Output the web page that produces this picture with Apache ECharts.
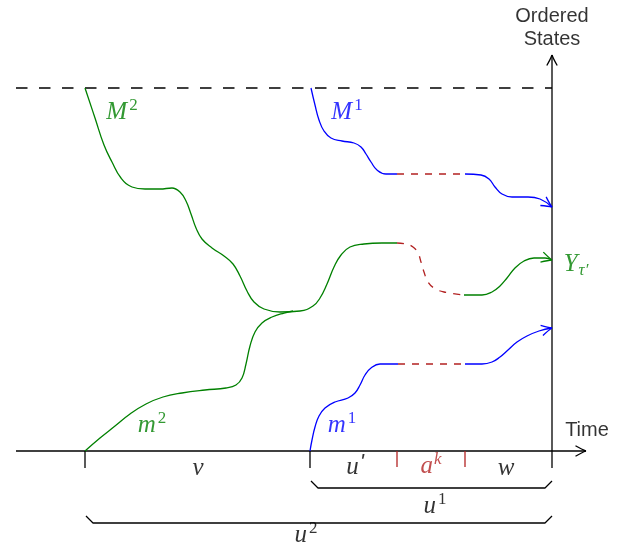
<!DOCTYPE html>
<html>
<head>
<meta charset="utf-8">
<script src="https://cdn.jsdelivr.net/npm/echarts@6/dist/echarts.min.js"></script>
<style>html,body{margin:0;padding:0;background:#fff}#c{width:632px;height:555px}</style>
</head>
<body>
<div id="c"></div>
<script>
// ---- Data (diagram coordinates: x = time position, y = state position, screen-like units) ----
const greenUpper = [[85,88],[95,118],[104,145],[112,162],[121,178],[132,187],[145,189],[160,189],[172,188],[180,192],[186,201],[191,214],[196,228],[202,239],[212,248],[224,256],[233,264],[240,276],[247,291],[254,302],[264,309],[280,312],[300,311],[313,306],[320,298],[327,284],[334,267],[341,255],[350,247],[364,244],[382,243],[397,243]];
const greenLower = [[85,451],[100,438],[115,426],[130,414],[146,404],[163,397],[182,393],[205,390],[226,388],[236,385],[242,378],[246,364],[250,346],[255,332],[262,323],[272,317],[284,313],[293,311]];
const greenGap = [[397,243],[406,244],[413,247],[418,253],[421,262],[424,272],[428,282],[434,288],[444,292],[464,295]];
const greenEnd = [[464,295],[482,295],[492,292],[500,286],[507,278],[515,268],[524,261],[534,258],[545,258],[552,260]];
const blueTop = [[311,88],[315,105],[319,120],[324,131],[331,138],[342,141],[354,143],[361,147],[366,154],[371,162],[377,170],[386,174],[397,174]];
const blueTopGap = [[397,174],[465,174]];
const blueTopEnd = [[465,174],[481,175],[489,179],[495,187],[502,194],[512,197],[528,197],[540,199],[552,207]];
const blueBot = [[310,451],[312,440],[315,427],[319,416],[325,408],[335,402],[348,398],[355,393],[360,385],[365,375],[371,368],[380,364],[398,364]];
const blueBotGap = [[398,364],[465,364]];
const blueBotEnd = [[465,364],[482,364],[492,362],[500,357],[508,350],[517,342],[527,336],[539,331],[552,328]];
const timeAxis = [[16,451],[586,451]];
const stateAxis = [[552,468],[552,55]];
const topLevel = [[16,88],[552,88]];
const blackTicks = [[[85,451],[85,468]],[[310,451],[310,468]]];
const redTicks = [[[397,451],[397,467]],[[465,451],[465,467]]];
const braceU1 = [[311,481],[318,488],[545,488],[552,481]];
const braceU2 = [[86,516],[93,523],[545,523],[552,516]];
const labels = [
  {name:'Ordered', at:[552,16], text:'{sans|Ordered}'},
  {name:'States', at:[552,39], text:'{sans|States}'},
  {name:'Time', at:[587,430], text:'{sans|Time}'},
  {name:'M2', at:[122,112], text:'{gi|M}{gs|2}'},
  {name:'M1', at:[347,112], text:'{bi|M}{bs|1}'},
  {name:'m2', at:[152,425], text:'{gi|m}{gs|2}'},
  {name:'m1', at:[342,425], text:'{bi|m}{bs|1}'},
  {name:'Ytau', at:[576,264], text:'{gi|Y}{gsub|τ′}'},
  {name:'v', at:[198,468], text:'{ki|v}'},
  {name:'u\'', at:[355,467], text:'{ki|u}{kp|\'}'},
  {name:'ak', at:[431,466], text:'{ri|a}{rsi|k}'},
  {name:'w', at:[506,468], text:'{ki|w}'},
  {name:'u1', at:[435,506], text:'{ki|u}{ks|1}'},
  {name:'u2', at:[306,535], text:'{ki|u}{ks|2}'}
];

const GREEN = '#008000', BLUE = '#0000ff', RED = '#b22222', BLACK = '#000';
const LW = 1.3;

function lineSeries(data, color, dash, smooth) {
  return {
    type: 'line', data: data, showSymbol: false, symbol: 'none', silent: true,
    smooth: smooth ? 0.45 : false,
    lineStyle: {color: color, width: LW, type: dash || 'solid', cap: 'butt'},
    animation: false, z: 2
  };
}

const series = [];
series.push(lineSeries(topLevel, BLACK, [11.5, 11.5], false));
series.push(lineSeries(timeAxis, BLACK, null, false));
series.push(lineSeries(stateAxis, BLACK, null, false));
blackTicks.forEach(t => series.push(lineSeries(t, BLACK, null, false)));
redTicks.forEach(t => series.push(lineSeries(t, RED, null, false)));
series.push(lineSeries(braceU1, BLACK, null, false));
series.push(lineSeries(braceU2, BLACK, null, false));
series.push(lineSeries(greenUpper, GREEN, null, true));
series.push(lineSeries(greenLower, GREEN, null, true));
series.push(lineSeries(greenGap, RED, [7, 7], true));
series.push(lineSeries(greenEnd, GREEN, null, true));
series.push(lineSeries(blueTop, BLUE, null, true));
series.push(lineSeries(blueTopGap, RED, [7, 7], false));
series.push(lineSeries(blueTopEnd, BLUE, null, true));
series.push(lineSeries(blueBot, BLUE, null, true));
series.push(lineSeries(blueBotGap, RED, [7, 7], false));
series.push(lineSeries(blueBotEnd, BLUE, null, true));

// arrowheads derived from the last two points of each arrowed path
const arrowPaths = [[greenEnd, GREEN], [blueTopEnd, BLUE], [blueBotEnd, BLUE], [timeAxis, BLACK], [stateAxis, BLACK]];
const arrowData = arrowPaths.map(([p, c]) => {
  const a = p[p.length - 2], b = p[p.length - 1];
  return {value: [a[0], a[1], b[0], b[1]], color: c};
});
series.push({
  type: 'custom', silent: true, animation: false, z: 3,
  encode: {x: [0, 2], y: [1, 3]},
  data: arrowData,
  renderItem: function (params, api) {
    const p0 = api.coord([api.value(0), api.value(1)]);
    const p1 = api.coord([api.value(2), api.value(3)]);
    const ang = Math.atan2(p1[1] - p0[1], p1[0] - p0[0]);
    const L = 10.5, W = 5.2;
    const bx = p1[0] - L * Math.cos(ang), by = p1[1] - L * Math.sin(ang);
    const nx = -Math.sin(ang) * W, ny = Math.cos(ang) * W;
    const mx = p1[0] - 0.35 * L * Math.cos(ang), my = p1[1] - 0.35 * L * Math.sin(ang);
    const color = arrowData[params.dataIndex].color;
    return {
      type: 'group',
      children: [
        {type: 'bezierCurve', shape: {x1: bx + nx, y1: by + ny, x2: p1[0], y2: p1[1], cpx1: mx + nx * 0.25, cpy1: my + ny * 0.25}, style: {stroke: color, lineWidth: LW, fill: null}},
        {type: 'bezierCurve', shape: {x1: bx - nx, y1: by - ny, x2: p1[0], y2: p1[1], cpx1: mx - nx * 0.25, cpy1: my - ny * 0.25}, style: {stroke: color, lineWidth: LW, fill: null}}
      ]
    };
  }
});

const serif = 'Liberation Serif';
const MS = 25, SS = 17, LH = 30;
const rich = {
  sans: {fontFamily: 'Liberation Sans', fontSize: 20, color: '#000', lineHeight: 22},
  gi: {fontFamily: serif, fontStyle: 'italic', fontSize: MS, color: GREEN, lineHeight: LH},
  gs: {fontFamily: serif, fontSize: SS, color: GREEN, lineHeight: 17, verticalAlign: 'top', padding: [0, 0, 0, 2]},
  gsub: {fontFamily: serif, fontStyle: 'italic', fontSize: SS, color: GREEN, lineHeight: 14, verticalAlign: 'bottom', padding: [0, 0, 0, 1]},
  bi: {fontFamily: serif, fontStyle: 'italic', fontSize: MS, color: BLUE, lineHeight: LH},
  bs: {fontFamily: serif, fontSize: SS, color: BLUE, lineHeight: 17, verticalAlign: 'top', padding: [0, 0, 0, 2]},
  ki: {fontFamily: serif, fontStyle: 'italic', fontSize: MS, color: '#000', lineHeight: LH},
  ks: {fontFamily: serif, fontSize: SS, color: '#000', lineHeight: 17, verticalAlign: 'top', padding: [0, 0, 0, 2]},
  kp: {fontFamily: 'Liberation Sans', fontStyle: 'italic', fontSize: 22, color: '#000', lineHeight: 26, verticalAlign: 'top', padding: [0, 0, 0, 1]},
  ri: {fontFamily: serif, fontStyle: 'italic', fontSize: MS, color: RED, lineHeight: LH},
  rsi: {fontFamily: serif, fontStyle: 'italic', fontSize: SS, color: RED, lineHeight: 17, verticalAlign: 'top', padding: [0, 0, 0, 1]}
};
series.push({
  type: 'scatter', silent: true, animation: false, symbolSize: 0, z: 4,
  data: labels.map(l => ({value: l.at, name: l.name})),
  label: {
    show: true, position: 'inside', align: 'center', verticalAlign: 'middle',
    formatter: function (p) { return labels[p.dataIndex].text; },
    rich: rich
  }
});

const chart = echarts.init(document.getElementById('c'), null, {renderer: 'canvas'});
chart.setOption({
  backgroundColor: '#fff',
  animation: false,
  grid: {left: 0, right: 0, top: 0, bottom: 0},
  xAxis: {type: 'value', min: 0, max: 632, show: false},
  yAxis: {type: 'value', min: 0, max: 555, inverse: true, show: false},
  series: series
});
</script>
</body>
</html>
